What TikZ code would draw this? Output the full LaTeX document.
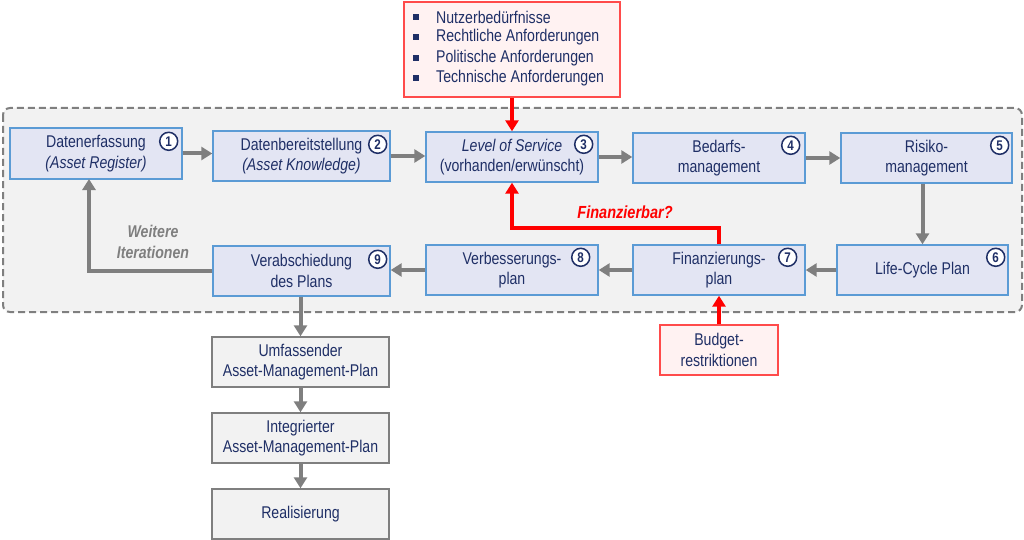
\documentclass[tikz,border=0pt]{standalone}
\usepackage{fontspec}
\setmainfont[FakeStretch=0.83]{Liberation Sans}
\usetikzlibrary{arrows.meta,calc}
\definecolor{navy}{HTML}{1F2F66}
\definecolor{boxfill}{HTML}{E3E5F3}
\definecolor{boxline}{HTML}{5B9BD5}
\definecolor{garr}{HTML}{7F7F7F}
\definecolor{contfill}{HTML}{F2F2F2}
\definecolor{redline}{HTML}{FF4B4B}
\definecolor{redfill}{HTML}{FFF2F2}
\begin{document}
\begin{tikzpicture}[x=1pt,y=-1pt,
  txt/.style={font=\fontsize{17}{20.5}\selectfont, text=navy, align=center},
  box/.style={txt, draw=boxline, fill=boxfill, line width=1.4pt, minimum height=50pt, inner sep=2pt},
  gbox/.style={txt, draw=garr, fill=contfill, line width=1.4pt, minimum height=50pt, minimum width=177pt, inner sep=2pt},
  rbox/.style={txt, draw=redline, fill=redfill, line width=1.4pt, inner sep=2pt},
  numc/.style={circle, draw=navy, fill=white, line width=1.5pt, inner sep=0pt, minimum size=18pt, font=\fontsize{14}{14}\selectfont\bfseries, text=navy},
  garrow/.style={draw=garr, line width=4pt, -{Triangle[width=13pt,length=11pt]}},
  rarrow/.style={draw=red, line width=4pt, -{Triangle[width=13pt,length=11pt]}},
  bul/.style={fill=navy, minimum size=6pt, inner sep=0pt}
]
\useasboundingbox (0,0) rectangle (1024,540);
% container
\draw[draw=garr, fill=contfill, line width=2pt, dash pattern=on 7pt off 4pt, rounded corners=7pt] (3,108) rectangle (1022,312);

% boxes
\node[box, minimum width=172pt, minimum height=51pt] (b1) at (96,153.5) {Datenerfassung\\\textit{(Asset Register)}};
\node[box, minimum width=177pt] (b2) at (301.5,156) {Datenbereitstellung\\\textit{(Asset Knowledge)}};
\node[box, minimum width=172pt] (b3) at (512,157) {\textit{Level of Service}\\(vorhanden/erwünscht)};
\node[box, minimum width=172pt] (b4) at (719,158) {Bedarfs-\\management};
\node[box, minimum width=171pt] (b5) at (926.5,158) {Risiko-\\management};
\node[box, minimum width=171pt] (b6) at (922.5,270) {Life-Cycle Plan};
\node[box, minimum width=172pt] (b7) at (719,270) {Finanzierungs-\\plan};
\node[box, minimum width=172pt] (b8) at (512,270) {Verbesserungs-\\plan};
\node[box, minimum width=177pt] (b9) at (301.5,271) {Verabschiedung\\des Plans};

\node[gbox] (u1) at (300.5,362) {Umfassender\\Asset-Management-Plan};
\node[gbox] (u2) at (300.5,438) {Integrierter\\Asset-Management-Plan};
\node[gbox] (u3) at (300.5,514) {Realisierung};

\node[rbox, minimum width=118pt, minimum height=50pt] (bud) at (719,350) {Budget-\\restriktionen};
\node[rbox, minimum width=216pt, minimum height=95pt] (req) at (512,49.5) {};

% requirement list
\foreach \y/\t [count=\i] in {17/Nutzerbedürfnisse,37/Rechtliche Anforderungen,58/Politische Anforderungen,78/Technische Anforderungen}{
  \node[bul] (bq\i) at (416,\y) {};
  \node[txt, anchor=west, inner sep=0pt] (bt\i) at (436,\y) {\t};
}

% numbers
\node[numc] (n1) at ($(b1.north east)+(-14,14)$) {1};
\node[numc] (n2) at ($(b2.north east)+(-13,14)$) {2};
\node[numc] (n3) at ($(b3.north east)+(-15,13)$) {3};
\node[numc] (n4) at ($(b4.north east)+(-15,13)$) {4};
\node[numc] (n5) at ($(b5.north east)+(-13,13)$) {5};
\node[numc] (n6) at ($(b6.north east)+(-13,13)$) {6};
\node[numc] (n7) at ($(b7.north east)+(-18,13)$) {7};
\node[numc] (n8) at ($(b8.north east)+(-18,13)$) {8};
\node[numc] (n9) at ($(b9.north east)+(-13,14)$) {9};

% gray arrows
\draw[garrow] (b1.east) -- (b1.east -| b2.west);
\draw[garrow] (b2.east) -- (b2.east -| b3.west);
\draw[garrow] (b3.east) -- (b3.east -| b4.west);
\draw[garrow] (b4.east) -- (b5.west);
\draw[garrow] (b6.north |- b5.south) -- (b6.north);
\draw[garrow] (b6.west) -- (b7.east);
\draw[garrow] (b7.west) -- (b8.east);
\draw[garrow] (b8.west) -- (b8.west -| b9.east);
\coordinate (k) at (89,179);
\draw[garrow] (b9.west) -| (k);
\draw[garrow] (b9.south -| u1.north) -- (u1.north);
\draw[garrow] (u1.south) -- (u2.north);
\draw[garrow] (u2.south) -- (u3.north);

\node[font=\fontsize{17}{21}\selectfont\bfseries\itshape, text=garr, align=center] (wi) at (153,242) {Weitere\\Iterationen};

% red arrows
\draw[rarrow] (req.south) -- (b3.north);
\coordinate (fin) at (719,228);
\draw[rarrow] (b7.north) -- (fin) -| (b3.south);
\draw[rarrow] (bud.north) -- (b7.south);
\node[font=\fontsize{17.5}{19}\selectfont\bfseries\itshape, text=red] (fq) at (625,212) {Finanzierbar?};
\end{tikzpicture}
\end{document}
